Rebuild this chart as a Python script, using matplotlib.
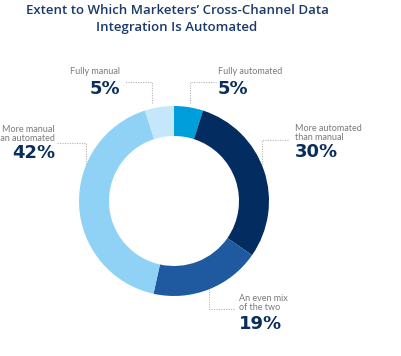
import matplotlib.pyplot as plt

# data
labels = ['Fully automated', 'More automated\nthan manual', 'An even mix\nof the two',
          'More manual\nthan automated', 'Fully manual']
shares = [5, 30, 19, 42, 5]
colors = ['#009fdc', '#032d60', '#1f5aa1', '#8fd2f6', '#c5e7fb']

W, H = 402, 356
NAVY = '#0b2d5e'
GREY = '#7a7a7a'


def y(v):
    # pixel row from top -> data y from bottom
    return H - v


fig = plt.figure(figsize=(W / 100, H / 100), dpi=100)
ax = fig.add_axes([0, 0, 1, 1])

ax.pie(shares, colors=colors, startangle=90, counterclock=False,
       radius=95, center=(174, y(201)), wedgeprops=dict(width=30, linewidth=0),
       frame=True)
ax.set_xlim(0, W)
ax.set_ylim(0, H)
ax.set_aspect('equal')
ax.axis('off')

fig.text(177 / W, 1 - 19 / H,
         'Extent to Which Marketers\u2019 Cross-Channel Data\nIntegration Is Automated',
         ha='center', va='center', fontsize=9.5, color='#1b3a6b',
         family='Open Sans', fontweight='semibold', linespacing=1.3)

# label layout: (text x, caption y, value y, alignment)
layout = [
    (218, 72, 89, 'left'),
    (295, 133, 152, 'left'),
    (239, 303, 324, 'left'),
    (55, 134, 153, 'right'),
    (120, 72, 89, 'right'),
]
for lab, val, (tx, cy, vy, ha) in zip(labels, shares, layout):
    ax.text(tx, y(cy), lab, ha=ha, va='center', fontsize=6.5, color=GREY,
            family='Lato', linespacing=1.05)
    ax.text(tx, y(vy), f'{val}%', ha=ha, va='center', fontsize=13,
            color=NAVY, fontweight='bold', family='DejaVu Sans')

# dotted leader lines
leaders = [
    ([190, 190, 216], [103, 82, 82]),
    ([262, 262, 288], [164, 140, 140]),
    ([209, 209, 235], [289, 309, 309]),
    ([86, 86, 57], [164, 143, 143]),
    ([152, 152, 125], [103, 82, 82]),
]
for xs, ys in leaders:
    ax.plot(xs, [y(v) for v in ys], color='#b5b5b5', lw=0.8,
            linestyle=(0, (1, 1.2)))

fig.savefig('out.png', dpi=100)
